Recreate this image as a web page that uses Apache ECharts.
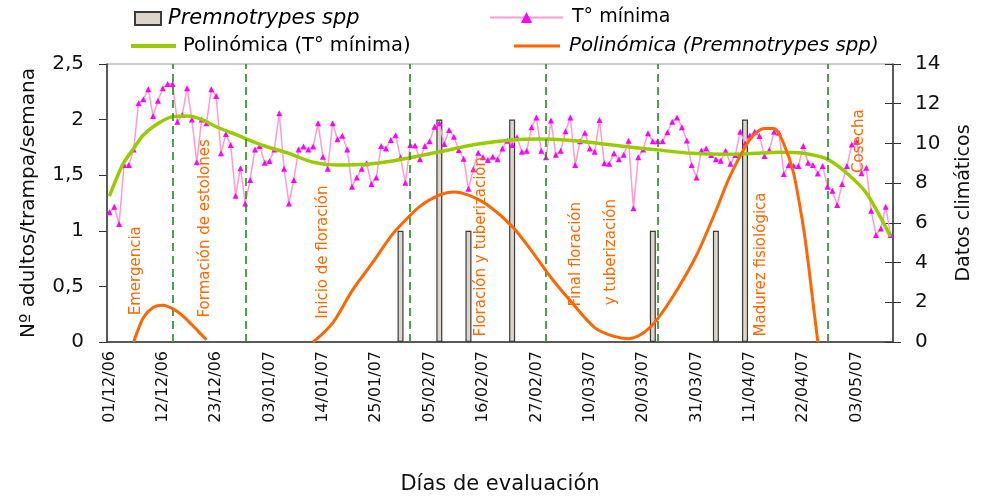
<!DOCTYPE html>
<html>
<head>
<meta charset="utf-8">
<script src="https://cdn.jsdelivr.net/npm/echarts@6/dist/echarts.min.js"></script>
<style>
  html, body { margin: 0; padding: 0; background: #ffffff; }
  #chart { width: 982px; height: 496px; }
</style>
</head>
<body>
<div id="chart"></div>
<script>
// Daily minimum temperature (°C), one reading per evaluation day
const tempMin = [
  6.53, 6.81, 5.94, 8.91, 8.91, 9.70, 12.02, 12.22, 12.73, 11.38,
  12.15, 12.78, 12.99, 12.99, 11.09, 11.43, 12.78, 11.21, 9.05, 11.21,
  11.01, 12.73, 12.39, 9.50, 10.47, 9.92, 7.37, 8.75, 6.98, 8.16,
  9.70, 9.87, 9.03, 9.12, 9.70, 11.52, 8.73, 6.98, 8.16, 9.70,
  9.84, 9.70, 9.84, 11.01, 9.33, 8.73, 11.01, 10.21, 10.39, 9.70,
  7.82, 8.29, 8.73, 9.00, 7.96, 8.29, 9.87, 9.75, 10.17, 10.41,
  9.30, 8.02, 9.92, 9.90, 9.20, 9.87, 10.11, 10.84, 11.01, 9.97,
  10.68, 10.34, 9.67, 9.23, 7.72, 8.70, 9.53, 9.30, 9.17, 9.33,
  9.20, 9.75, 10.14, 9.92, 10.31, 9.58, 9.63, 10.81, 11.31, 9.63,
  9.30, 11.15, 9.43, 9.63, 10.61, 11.31, 8.91, 10.11, 10.54, 9.75,
  9.58, 11.18, 9.00, 8.98, 9.50, 9.20, 9.43, 10.14, 6.73, 9.30,
  9.70, 10.51, 10.11, 10.11, 10.11, 10.56, 11.09, 11.31, 10.81, 10.15,
  8.91, 8.29, 9.65, 9.75, 9.42, 9.20, 9.13, 9.63, 8.98, 9.42,
  10.59, 10.00, 10.40, 10.59, 10.37, 9.37, 9.67, 10.59, 10.54, 8.46,
  8.91, 8.88, 8.86, 9.87, 9.03, 8.91, 8.49, 8.86, 7.82, 7.62,
  6.90, 7.96, 8.86, 9.95, 10.09, 8.50, 8.78, 6.61, 5.39, 5.72,
  6.81, 5.39
];

// Evaluation days: daily from 01/12/06; 15/03/07 holds two records
const firstDay = new Date(2006, 11, 1);
const doubleRecordDay = '15/03/07';

// Adults per trap per week (Premnotrypes spp)
const trapDates  = ['30/01/07', '07/02/07', '13/02/07', '22/02/07', '22/03/07', '04/04/07', '10/04/07'];
const trapCounts = [1, 2, 1, 2, 1, 1, 2];

// Polynomial trend of T° mínima, [day index, °C]
const tempTrend = [
  [0, 7.35], [2, 8.55], [3, 9.05], [5, 9.75], [7, 10.42], [10, 11.0], [13, 11.35],
  [16, 11.38], [19, 11.21], [22, 10.84], [26, 10.45], [32, 9.87], [37, 9.5],
  [42, 9.05], [47, 8.91], [53, 8.95], [58, 9.1], [62, 9.28], [68, 9.58],
  [76, 9.97], [83, 10.17], [89, 10.22], [94, 10.17], [101, 10.0], [108, 9.8],
  [114, 9.65], [120, 9.5], [127, 9.45], [133, 9.5], [138, 9.55], [143, 9.5],
  [148, 9.2], [152, 8.5], [156, 7.5], [161, 5.3]
];

// Polynomial trend of Premnotrypes spp (positive part only), [day index, adults]
const weevilTrendEarly = [
  [5, 0], [6, 0.12], [7, 0.22], [9, 0.31], [11, 0.33], [13, 0.30],
  [15, 0.24], [17, 0.155], [19, 0.065], [20, 0.02]
];
const weevilTrendLate = [
  [42, 0], [46, 0.17], [50, 0.46], [54, 0.70], [58, 0.95], [60, 1.05],
  [64, 1.22], [68, 1.32], [71, 1.35], [74, 1.32], [78, 1.23], [83, 1.04],
  [87, 0.82], [91, 0.58], [95, 0.37], [100, 0.13], [104, 0.05], [107, 0.03],
  [110, 0.08], [113, 0.21], [117, 0.47], [121, 0.78], [125, 1.18], [128, 1.50],
  [132, 1.82], [135, 1.92], [137, 1.92], [139, 1.78], [141, 1.52], [143, 1.04],
  [144, 0.72], [145, 0.36], [146, 0]
];

// First day of each crop phase
const phaseStarts = ['14/12/06', '29/12/06', '01/02/07', '01/03/07', '23/03/07', '27/04/07'];

// Phase names, anchored at [day index, adults] on the primary axis
const phaseNotes = [
  { text: 'Emergencia', at: [5.4, 0.24] },
  { text: 'Formación de estolones', at: [19.7, 0.22] },
  { text: 'Inicio de floración', at: [44.1, 0.21] },
  { text: 'Floración y tuberización', at: [76.6, 0.05] },
  { text: 'Final floración', at: [96.2, 0.32] },
  { text: 'y tuberización', at: [103.4, 0.33] },
  { text: 'Madurez fisiológica', at: [134.4, 0.05] },
  { text: 'Cosecha', at: [154.5, 1.52] }
];

function ddmmyy(d) {
  const p = n => String(n).padStart(2, '0');
  return p(d.getDate()) + '/' + p(d.getMonth() + 1) + '/' + p(d.getFullYear() % 100);
}
const days = [];
for (const d = new Date(firstDay); days.length < tempMin.length; d.setDate(d.getDate() + 1)) {
  const label = ddmmyy(d);
  days.push(label);
  if (label === doubleRecordDay && days.length < tempMin.length) days.push(label);
}
const trapSeries = days.map(d => {
  const k = trapDates.indexOf(d);
  return k < 0 ? null : trapCounts[k];
});

const FONT = 'DejaVu Sans';
const INK = '#111111';
const AXIS = '#333333';

const chart = echarts.init(document.getElementById('chart'), null, { renderer: 'canvas' });

chart.setOption({
  animation: false,
  backgroundColor: '#ffffff',
  textStyle: { fontFamily: FONT },
  grid: {
    left: 107, right: 89, top: 64, height: 278,
    outerBoundsMode: 'none',
    containLabel: false,
    show: true, borderColor: '#9a9a9a', borderWidth: 1, backgroundColor: 'transparent'
  },
  legend: [
    {
      left: 134, top: 8, padding: 0, itemWidth: 26, itemHeight: 13, itemGap: 0,
      data: [{ name: 'Premnotrypes spp', icon: 'rect' }],
      textStyle: { fontFamily: FONT, fontSize: 21, fontStyle: 'italic', color: '#000', padding: [0, 0, 0, 2] }
    },
    {
      left: 489, top: 8, padding: 0, itemWidth: 73, itemHeight: 14,
      data: ['T° mínima'],
      textStyle: { fontFamily: FONT, fontSize: 19, color: '#000', padding: [0, 0, 0, 4] }
    },
    {
      left: 131, top: 36, padding: 0, itemWidth: 45, itemHeight: 4,
      data: [{ name: 'Polinómica (T° mínima)', icon: 'rect' }],
      textStyle: { fontFamily: FONT, fontSize: 19.5, color: '#000', padding: [0, 0, 0, 2] }
    },
    {
      left: 514, top: 36, padding: 0, itemWidth: 46, itemHeight: 3,
      data: [{ name: 'Polinómica (Premnotrypes spp)', icon: 'rect' }],
      textStyle: { fontFamily: FONT, fontSize: 19.8, fontStyle: 'italic', color: '#000', padding: [0, 0, 0, 4] }
    }
  ],
  xAxis: {
    type: 'category',
    data: days,
    boundaryGap: true,
    name: 'Días de evaluación',
    nameLocation: 'middle',
    nameGap: 132,
    nameTextStyle: { fontFamily: FONT, fontSize: 21, color: INK },
    axisLine: { lineStyle: { color: AXIS, width: 1.5 } },
    axisTick: { interval: 0, length: 6, lineStyle: { color: AXIS } },
    axisLabel: { interval: 10, rotate: 90, margin: 9, fontFamily: FONT, fontSize: 16, color: INK },
    splitLine: { show: false }
  },
  yAxis: [
    {
      type: 'value', min: 0, max: 2.5, interval: 0.5, position: 'left',
      name: 'Nº adultos/trampa/semana',
      nameLocation: 'middle', nameRotate: 90, nameGap: 68,
      nameTextStyle: { fontFamily: FONT, fontSize: 20, color: INK },
      axisLine: { show: true, lineStyle: { color: AXIS, width: 1.5 } },
      axisTick: { show: true, length: 8, lineStyle: { color: AXIS } },
      axisLabel: {
        margin: 23, fontFamily: FONT, fontSize: 20, color: INK,
        formatter: v => String(v).replace('.', ',')
      },
      splitLine: { show: false }
    },
    {
      type: 'value', min: 0, max: 14, interval: 2, position: 'right',
      name: 'Datos climáticos',
      nameLocation: 'middle', nameRotate: 90, nameGap: 62,
      nameTextStyle: { fontFamily: FONT, fontSize: 19, color: INK },
      axisLine: { show: true, lineStyle: { color: AXIS, width: 1.5 } },
      axisTick: { show: true, length: 8, lineStyle: { color: AXIS } },
      axisLabel: { margin: 22, fontFamily: FONT, fontSize: 20, color: INK },
      splitLine: { show: false }
    },
    {
      // inner half of the crossing ticks on the secondary axis
      type: 'value', min: 0, max: 14, interval: 2, position: 'right',
      axisLine: { show: false },
      axisTick: { show: true, inside: true, length: 8, lineStyle: { color: AXIS } },
      axisLabel: { show: false },
      splitLine: { show: false }
    }
  ],
  series: [
    {
      name: 'Premnotrypes spp',
      type: 'bar',
      yAxisIndex: 0,
      data: trapSeries,
      barWidth: 6,
      itemStyle: { color: '#ddd5c9', borderColor: '#3a3a3a', borderWidth: 1.2 },
      z: 2
    },
    {
      name: 'T° mínima',
      type: 'line',
      yAxisIndex: 1,
      data: tempMin,
      symbol: 'triangle',
      symbolSize: 6,
      showAllSymbol: true,
      lineStyle: { color: '#ff9ccf', width: 1.5 },
      itemStyle: { color: '#ff00ff' },
      z: 3
    },
    {
      name: 'Polinómica (T° mínima)',
      type: 'line',
      yAxisIndex: 1,
      data: tempTrend,
      smooth: 0.3,
      symbol: 'none',
      lineStyle: { color: '#99cc00', width: 3.5 },
      itemStyle: { color: '#99cc00' },
      z: 4
    },
    {
      name: 'Polinómica (Premnotrypes spp)',
      type: 'line',
      yAxisIndex: 0,
      data: weevilTrendEarly.concat([[31, null]], weevilTrendLate),
      connectNulls: false,
      smooth: 0.3,
      symbol: 'none',
      lineStyle: { color: '#ff6600', width: 3 },
      itemStyle: { color: '#ff6600' },
      z: 5,
      markLine: {
        silent: true,
        symbol: 'none',
        label: { show: false },
        lineStyle: { color: '#1d8f1d', type: [8, 5], width: 1.6 },
        data: phaseStarts.map(d => ({ xAxis: d }))
      }
    }
  ]
});

// Phase names, written upward in orange
const finder = { xAxisIndex: 0, yAxisIndex: 0 };
const band = chart.convertToPixel(finder, [1, 0])[0] - chart.convertToPixel(finder, [0, 0])[0];
chart.setOption({
  graphic: phaseNotes.map(n => {
    const base = Math.floor(n.at[0]);
    const p = chart.convertToPixel(finder, [base, n.at[1]]);
    return {
      type: 'text',
      x: p[0] + (n.at[0] - base) * band,
      y: p[1],
      rotation: Math.PI / 2,
      z: 20,
      silent: true,
      style: {
        text: n.text,
        fill: '#ff6600',
        fontFamily: FONT,
        fontSize: 15,
        align: 'left',
        verticalAlign: 'middle'
      }
    };
  })
});
</script>
</body>
</html>
